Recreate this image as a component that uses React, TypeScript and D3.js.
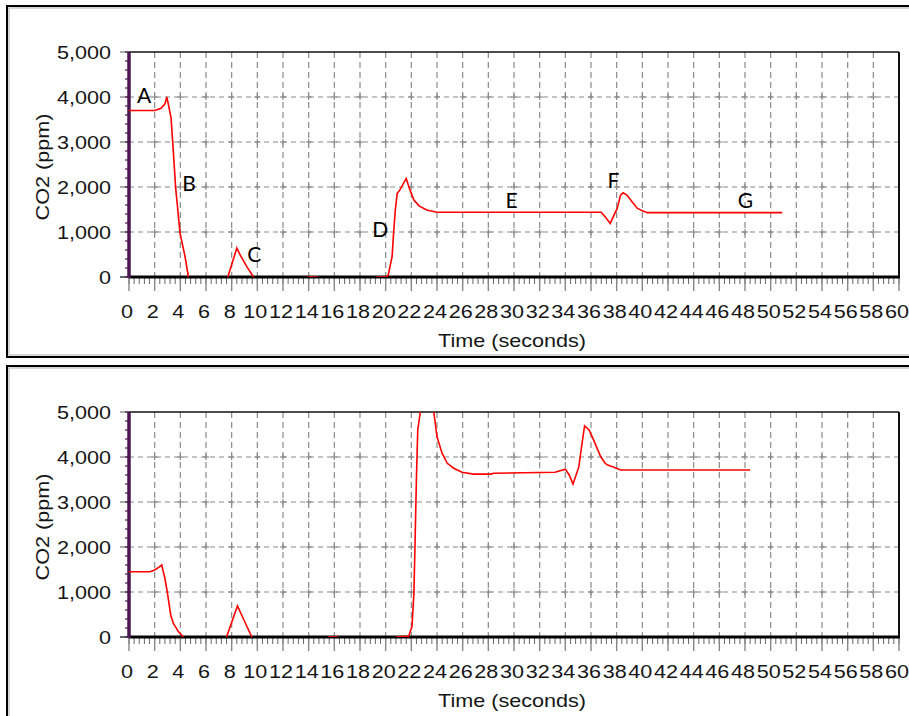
import React from "react";
import * as d3 from "d3";

// ---- data ----
const topTime = [0, 2, 2.5, 2.8, 2.95, 3.28, 3.41, 3.64, 3.98, 4.37, 4.63, 5.0, 7.7, 8.4, 8.66, 9.18, 9.7, 10.0, 13.9, 14.7, 15.0, 19.3, 20.05, 20.2, 20.5, 20.6, 20.75, 20.9, 21.1, 21.6, 21.9, 22.2, 22.6, 23.2, 24.0, 36.8, 37.1, 37.5, 37.8, 38.05, 38.3, 38.5, 38.8, 39.2, 39.6, 40.0, 40.4, 50.9];
const topCO2 = [3700, 3700, 3750, 3850, 4000, 3530, 2980, 1970, 970, 450, 0, NaN, 0, 640, 490, 230, 0, NaN, 0, 0, NaN, 0, 0, 40, 450, 900, 1490, 1860, 1930, 2190, 1930, 1710, 1580, 1490, 1440, 1440, 1340, 1190, 1380, 1530, 1820, 1870, 1820, 1670, 1530, 1470, 1430, 1430];

const botTime = [0, 1.64, 2.0, 2.37, 2.55, 2.8, 3.0, 3.25, 3.46, 3.85, 4.24, 4.5, 7.6, 8.45, 9.0, 9.57, 10.0, 15.5, 16.3, 16.6, 20.8, 21.8, 22.05, 22.2, 22.3, 22.4, 22.5, 22.7, 23.2, 23.75, 24.0, 24.4, 24.8, 25.3, 25.95, 26.85, 28.2, 28.4, 33.2, 34.0, 34.3, 34.6, 35.05, 35.3, 35.5, 35.85, 36.2, 36.75, 37.1, 37.3, 37.8, 38.3, 48.4];
const botCO2 = [1450, 1450, 1490, 1560, 1600, 1300, 970, 490, 300, 120, 0, NaN, 0, 690, 350, 0, NaN, 0, 0, NaN, 0, 20, 230, 970, 2230, 3560, 4600, 5000, 5700, 5000, 4450, 4080, 3860, 3750, 3660, 3620, 3620, 3640, 3660, 3730, 3600, 3400, 3780, 4300, 4690, 4600, 4380, 4010, 3860, 3820, 3770, 3710, 3710];

const xTicks = d3.range(0, 61, 2);
const xMinor = d3.range(0, 60.01, 0.4);
const yTicks = [0, 1000, 2000, 3000, 4000, 5000];
const yMinor = d3.range(0, 5001, 200);

const topNotes = [
  { label: "A", t: 0.62, v: 3870 },
  { label: "B", t: 4.14, v: 1911 },
  { label: "C", t: 9.21, v: 333 },
  { label: "D", t: 18.96, v: 889 },
  { label: "E", t: 29.34, v: 1533 },
  { label: "F", t: 37.29, v: 1978 },
  { label: "G", t: 47.44, v: 1533 },
];

const xTitle = "Time (seconds)";
const yTitle = "CO2 (ppm)";

type Note = { label: string; t: number; v: number };

const PL = 129, PR = 899, PT = 52, PB = 277;
const FONT = "'Liberation Sans', Arial, sans-serif";
const SX = 1.2;

function WText({ x, y, anchor, size, children, rotate }: { x: number; y: number; anchor: string; size: number; children: any; rotate?: boolean }) {
  const tr = rotate ? `translate(${x},${y}) rotate(-90) scale(${SX},1)` : `translate(${x},${y}) scale(${SX},1)`;
  return (
    <text transform={tr} x={0} y={0} textAnchor={anchor} fontFamily={FONT} fontSize={size} fill="#151515">
      {children}
    </text>
  );
}

function Panel({ oy, times, values, notes, id, frameH }: { oy: number; times: number[]; values: number[]; notes: Note[]; id: string; frameH: number }) {
  const x = d3.scaleLinear().domain([0, 60]).range([PL, PR]);
  const y = d3.scaleLinear().domain([0, 5000]).range([PB + oy, PT + oy]);
  const pts = times.map((t, i) => ({ t, v: values[i] }));
  const line = d3
    .line<{ t: number; v: number }>()
    .defined((d) => !isNaN(d.v))
    .x((d) => x(d.t))
    .y((d) => y(d.v));
  const fmt = d3.format(",");
  const gridCol = "#8a8a8a";
  return (
    <g>
      {/* frame */}
      <rect x={7} y={oy + 6} width={940} height={frameH} fill="none" stroke="#000" strokeWidth={2} />
      <rect x={9} y={oy + 8} width={936} height={frameH - 4} fill="none" stroke="#b0b0b0" strokeWidth={1} />
      <defs>
        <clipPath id={id}>
          <rect x={PL} y={PT + oy} width={PR - PL} height={PB - PT} />
        </clipPath>
      </defs>
      {/* grid */}
      {xTicks.filter((t) => t > 0 && t < 60).map((t) => (
        <line key={"gx" + t} x1={x(t)} x2={x(t)} y1={y(5000)} y2={y(0)} stroke={gridCol} strokeWidth={1.2} strokeDasharray="6,4" />
      ))}
      {yTicks.filter((v) => v > 0 && v < 5000).map((v) => (
        <line key={"gy" + v} x1={x(0)} x2={x(60)} y1={y(v)} y2={y(v)} stroke={gridCol} strokeWidth={1.2} strokeDasharray="5,4" />
      ))}
      {xTicks.filter((t) => t > 0 && t < 60).map((t) =>
        yTicks.filter((v) => v > 0 && v < 5000).map((v) => (
          <g key={"c" + t + "-" + v}>
            <line x1={x(t) - 3} x2={x(t) + 3} y1={y(v)} y2={y(v)} stroke={gridCol} strokeWidth={1.2} />
            <line x1={x(t)} x2={x(t)} y1={y(v) - 3} y2={y(v) + 3} stroke={gridCol} strokeWidth={1.2} />
          </g>
        ))
      )}
      {/* y ticks */}
      {yTicks.map((v) => (
        <line key={"yt" + v} x1={PL - 9} x2={PL} y1={y(v)} y2={y(v)} stroke={v === 0 ? "#000" : "#777"} strokeWidth={1.2} />
      ))}
      {yMinor.map((v) => (
        <line key={"ym" + v} x1={PL - 4} x2={PL} y1={y(v)} y2={y(v)} stroke="#4b1850" strokeWidth={1.2} />
      ))}
      {/* x ticks */}
      {xMinor.map((t, i) => (
        <line key={"xm" + i} x1={x(t)} x2={x(t)} y1={y(0)} y2={y(0) + 7} stroke="#666" strokeWidth={1} />
      ))}
      {xTicks.map((t) => (
        <line key={"xt" + t} x1={x(t)} x2={x(t)} y1={y(0)} y2={y(0) + 14} stroke="#888" strokeWidth={1.4} />
      ))}
      {/* borders */}
      <line x1={PL} x2={PR} y1={PT + oy} y2={PT + oy} stroke="#111" strokeWidth={1.5} />
      <line x1={PR} x2={PR} y1={PT + oy} y2={PB + oy} stroke="#111" strokeWidth={2} />
      <line x1={PL} x2={PR + 1} y1={PB + oy} y2={PB + oy} stroke="#000" strokeWidth={3} />
      <line x1={PL} x2={PL} y1={PT + oy} y2={PB + oy + 1} stroke="#4b1850" strokeWidth={3.5} />
      {/* data line */}
      <path d={line(pts) || ""} fill="none" stroke="#ff0000" strokeWidth={1.6} clipPath={`url(#${id})`} />
      {/* tick labels */}
      {yTicks.map((v) => (
        <WText key={"yl" + v} x={111} y={y(v) + 6.5} anchor="end" size={18}>
          {fmt(v)}
        </WText>
      ))}
      {xTicks.map((t) => (
        <WText key={"xl" + t} x={x(t) - 2} y={oy + 318} anchor="middle" size={18}>
          {t}
        </WText>
      ))}
      <WText x={512} y={oy + 347} anchor="middle" size={18}>
        {xTitle}
      </WText>
      <WText x={49} y={oy + 167} anchor="middle" size={18} rotate>
        {yTitle}
      </WText>
      {notes.map((n) => (
        <text key={n.label} x={x(n.t)} y={y(n.v)} fontFamily="Lato, 'Open Sans', sans-serif" fontSize={21} fill="#000">
          {n.label}
        </text>
      ))}
    </g>
  );
}

export default function App() {
  return (
    <svg width={909} height={716} style={{ position: "absolute", left: 0, top: 0, background: "#fff" }}>
      <rect x={0} y={0} width={909} height={716} fill="#fff" />
      <Panel oy={0} times={topTime} values={topCO2} notes={topNotes} id="clipTop" frameH={351} />
      <Panel oy={360} times={botTime} values={botCO2} notes={[]} id="clipBot" frameH={400} />
    </svg>
  );
}
